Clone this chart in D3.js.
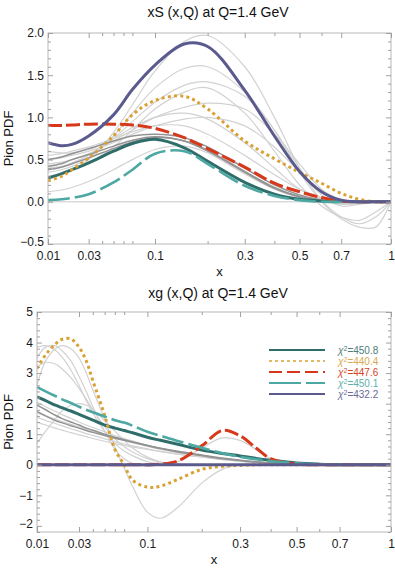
<!DOCTYPE html>
<html>
<head>
<meta charset="utf-8">
<script src="https://cdn.jsdelivr.net/npm/d3@7"></script>
<style>
body { margin: 0; background: #fff; }
svg { display: block; font-family: "Liberation Sans", Arial, sans-serif; }
</style>
</head>
<body>
<svg id="chart" width="395" height="568"></svg>
<script>
// x grids (sea and gluon)
var xsSea = [0.01,0.015,0.02,0.03,0.05,0.07,0.1,0.15,0.2,0.3,0.4,0.5,0.6,0.7,0.8,0.9,1];
var xsGlu = [0.01,0.013,0.017,0.02,0.025,0.03,0.035,0.04,0.05,0.06,0.07,0.08,0.1,0.12,0.15,0.2,0.25,0.3,0.35,0.4,0.5,0.6,0.7,0.8,1];

var chi2 = [450.8, 440.4, 447.6, 450.1, 432.2];

// xS, highlighted fits
var seaA = [0.28,0.33,0.38,0.46,0.60,0.69,0.74,0.64,0.48,0.23,0.09,0.03,0.01,0,0,0,0];
var seaB = [0.25,0.30,0.38,0.52,0.78,1.03,1.20,1.25,1.10,0.72,0.51,0.35,0.22,0.10,0.03,0,0];
var seaC = [0.905,0.905,0.91,0.92,0.92,0.91,0.87,0.76,0.63,0.41,0.22,0.12,0.05,0.01,0,0,0];
var seaD = [0.02,0.03,0.045,0.09,0.23,0.38,0.57,0.60,0.45,0.19,0.07,0.02,0,0,0,0,0];
var seaE = [0.70,0.665,0.68,0.78,1.03,1.33,1.62,1.87,1.84,1.32,0.78,0.36,0.12,0.02,0,0,0];

// xS, other replicas
var seaReplicas = [
  [0.30,0.33,0.38,0.50,0.82,1.15,1.55,1.90,1.97,1.60,1.00,0.40,0.02,-0.18,-0.26,-0.18,0],
  [0.35,0.38,0.42,0.52,0.78,1.05,1.35,1.58,1.60,1.30,0.85,0.35,0.0,-0.20,-0.30,-0.30,0],
  [0.40,0.42,0.46,0.55,0.75,0.95,1.18,1.38,1.42,1.25,0.85,0.40,0.08,-0.05,-0.03,0,0],
  [0.45,0.47,0.50,0.57,0.72,0.85,1.00,1.12,1.17,1.10,0.80,0.45,0.15,0.02,0,0,0],
  [0.50,0.52,0.55,0.60,0.70,0.80,0.90,0.98,1.00,0.90,0.65,0.35,0.12,0.02,0,0,0],
  [0.55,0.57,0.60,0.65,0.75,0.83,0.90,0.90,0.80,0.55,0.32,0.15,0.05,0,0,0,0],
  [0.60,0.58,0.58,0.62,0.75,0.88,1.00,1.05,0.98,0.70,0.40,0.15,0.02,-0.03,-0.02,0,0],
  [0.30,0.33,0.37,0.45,0.65,0.85,1.10,1.30,1.35,1.05,0.60,0.20,-0.05,-0.18,-0.22,-0.12,0],
  [0.12,0.14,0.17,0.24,0.38,0.50,0.62,0.66,0.58,0.33,0.15,0.05,0.01,0,0,0,0],
  [0.50,0.53,0.57,0.63,0.72,0.78,0.80,0.76,0.65,0.40,0.20,0.08,0.02,0,0,0,0],
  [0.42,0.45,0.50,0.56,0.66,0.73,0.77,0.72,0.60,0.35,0.16,0.06,0.01,0,0,0,0],
  [0.38,0.41,0.45,0.52,0.63,0.71,0.76,0.72,0.61,0.36,0.17,0.06,0.01,0,0,0,0]
];

// xg, highlighted fits
var gluA = [2.22,2.1,1.95,1.87,1.76,1.65,1.55,1.46,1.3,1.2,1.12,1.05,0.9,0.8,0.67,0.48,0.37,0.29,0.21,0.15,0.06,0.02,0,0,0];
var gluB = [3.15,3.6,3.95,4.1,4.12,3.85,3.4,2.75,1.62,0.5,0.0,-0.5,-0.73,-0.70,-0.48,-0.15,-0.05,-0.02,0,0,0,0,0,0,0];
var gluC = [0,0,0,0,0,0,0,0,0,0,0,0,0,0.02,0.12,0.62,1.12,0.95,0.55,0.2,0.02,0,0,0,0];
var gluD = [2.54,2.4,2.25,2.15,2.02,1.9,1.8,1.72,1.58,1.46,1.38,1.28,1.08,0.95,0.78,0.56,0.38,0.26,0.18,0.12,0.05,0.01,0,0,0];
var gluE = [0,0,0,0,0,0,0,0,0,0,0,0,0,0,0,0,0,0,0,0,0,0,0,0,0];

// xg, other replicas
var gluReplicas = [
  [2.6,3.4,3.8,3.9,3.8,3.5,3.0,2.45,1.5,0.6,-0.1,-0.7,-1.55,-1.75,-1.4,-0.6,-0.15,0,0,0,0,0,0,0,0],
  [3.85,3.9,3.75,3.55,3.1,2.6,2.1,1.7,1.1,0.7,0.45,0.3,0.1,0.03,0,0,0,0,0,0,0,0,0,0,0],
  [3.5,3.85,3.9,3.75,3.4,2.9,2.4,1.9,1.1,0.5,0.2,0.05,-0.05,0,0,0,0,0,0,0,0,0,0,0,0],
  [3.2,3.35,3.3,3.15,2.85,2.5,2.15,1.8,1.25,0.85,0.6,0.42,0.2,0.08,0.02,0,0,0,0,0,0,0,0,0,0],
  [0.7,1.1,1.5,1.75,1.95,2.0,1.95,1.8,1.45,1.1,0.8,0.55,0.25,0.1,0.02,0,0,0,0,0,0,0,0,0,0],
  [2.05,1.9,1.75,1.65,1.52,1.4,1.3,1.22,1.08,0.96,0.86,0.78,0.64,0.54,0.42,0.28,0.18,0.12,0.08,0.05,0.02,0,0,0,0],
  [1.7,1.6,1.5,1.42,1.32,1.24,1.16,1.1,0.98,0.88,0.8,0.72,0.6,0.5,0.4,0.27,0.18,0.12,0.08,0.05,0.02,0,0,0,0],
  [1.55,1.45,1.35,1.28,1.18,1.1,1.02,0.96,0.85,0.76,0.68,0.62,0.52,0.44,0.35,0.25,0.17,0.11,0.07,0.04,0.01,0,0,0,0],
  [1.4,1.3,1.2,1.14,1.05,0.98,0.92,0.86,0.77,0.7,0.63,0.58,0.5,0.43,0.35,0.26,0.18,0.12,0.08,0.05,0.02,0,0,0,0],
  [0,0,0,0,0,0,0,0,0,0,0,0,0,0.02,0.1,0.55,0.88,0.8,0.5,0.2,0.02,0,0,0,0],
  [1.75,1.6,1.45,1.38,1.28,1.2,1.12,1.06,0.96,0.87,0.8,0.74,0.63,0.54,0.44,0.32,0.22,0.15,0.1,0.06,0.02,0,0,0,0],
  [1.95,1.8,1.62,1.52,1.4,1.3,1.2,1.13,1.0,0.9,0.82,0.75,0.63,0.53,0.42,0.3,0.2,0.14,0.09,0.06,0.02,0,0,0,0]
];

var xLabelTicks = [0.01,0.03,0.1,0.3,0.5,0.7,1];
var xMinorTicks = [0.04,0.05,0.06,0.07,0.2,0.4,0.6];

// line styles for the five fits
var colors = ["#2f6d6a", "#d9a132", "#d7381a", "#4da7a2", "#5b5a8e"];
var dashes = [null, "3,3.2", "14,4", "22,5", null];
var widths = [3, 3, 3, 2.6, 3];
var legendDash = [null, "3,3", "13,5", "32,5", null];
var textColors = ["#4b7d79", "#d9a850", "#d4451f", "#5cb0ab", "#6a6a96"];

var svg = d3.select("#chart");
svg.append("rect").attr("width", 395).attr("height", 568).attr("fill", "#fff");

function drawPanel(p) {
  var x = d3.scalePow().exponent(0.3436).domain([0.01, 1]).range([p.left, p.right]);
  var y = d3.scaleLinear().domain(p.yDomain).range([p.bottom, p.top]);
  var g = svg.append("g");

  var clipId = "clip" + p.id;
  g.append("clipPath").attr("id", clipId).append("rect")
    .attr("x", p.left).attr("y", p.top).attr("width", p.right - p.left).attr("height", p.bottom - p.top);

  g.append("line").attr("x1", p.left).attr("x2", p.right)
    .attr("y1", y(0)).attr("y2", y(0)).attr("stroke", "#c8c8c8").attr("stroke-width", 1);

  var line = d3.line()
    .x(function(d, i) { return x(p.xs[i]); })
    .y(function(d) { return y(d); })
    .curve(d3.curveCatmullRom.alpha(0.5));

  var plot = g.append("g").attr("clip-path", "url(#" + clipId + ")");

  p.replicas.forEach(function(r, i) {
    var dark = p.darkIdx.indexOf(i) >= 0;
    plot.append("path").attr("d", line(r)).attr("fill", "none")
      .attr("stroke", dark ? "#939393" : "#d2d2d2")
      .attr("stroke-width", dark ? 1.5 : 1.2);
  });

  p.fits.forEach(function(f, i) {
    plot.append("path").attr("d", line(f)).attr("fill", "none")
      .attr("stroke", colors[i]).attr("stroke-width", widths[i])
      .attr("stroke-dasharray", dashes[i]);
  });

  // frame
  g.append("rect").attr("x", p.left).attr("y", p.top)
    .attr("width", p.right - p.left).attr("height", p.bottom - p.top)
    .attr("fill", "none").attr("stroke", "#b8b8b8").attr("stroke-width", 1);

  function style(a) {
    a.select(".domain").remove();
    a.selectAll(".tick line").attr("stroke", "#a0a0a0");
    a.selectAll("text").attr("fill", "#1a1a1a").style("font-size", "12px")
      .style("font-family", "'Liberation Sans', Arial, sans-serif");
  }

  g.append("g").attr("transform", "translate(0," + p.bottom + ")")
    .call(d3.axisBottom(x).tickValues(xLabelTicks).tickSize(-5).tickPadding(7)
      .tickFormat(function(d) { return d === 1 ? "1" : String(d); }))
    .call(style);
  g.append("g").attr("transform", "translate(0," + p.bottom + ")")
    .call(d3.axisBottom(x).tickValues(xMinorTicks).tickSize(-3).tickFormat(""))
    .call(style);
  g.append("g").attr("transform", "translate(0," + p.top + ")")
    .call(d3.axisTop(x).tickValues(xLabelTicks).tickSize(-5).tickFormat(""))
    .call(style);
  g.append("g").attr("transform", "translate(0," + p.top + ")")
    .call(d3.axisTop(x).tickValues(xMinorTicks).tickSize(-3).tickFormat(""))
    .call(style);

  var yAx = g.append("g").attr("transform", "translate(" + p.left + ",0)")
    .call(d3.axisLeft(y).tickValues(p.yMajor).tickSize(-5).tickPadding(4).tickFormat(p.yFmt))
    .call(style);
  // keep the lowest y label clear of the first x label
  yAx.selectAll(".tick text").filter(function(d) { return d === p.yDomain[0] || d === p.yMajor[0]; })
    .attr("dy", "0.1em");
  g.append("g").attr("transform", "translate(" + p.left + ",0)")
    .call(d3.axisLeft(y).tickValues(p.yMinor).tickSize(-3).tickFormat(""))
    .call(style);
  g.append("g").attr("transform", "translate(" + p.right + ",0)")
    .call(d3.axisRight(y).tickValues(p.yMajor).tickSize(-5).tickFormat(""))
    .call(style);
  g.append("g").attr("transform", "translate(" + p.right + ",0)")
    .call(d3.axisRight(y).tickValues(p.yMinor).tickSize(-3).tickFormat(""))
    .call(style);

  g.append("text").attr("x", 218).attr("y", p.titleY).attr("text-anchor", "middle")
    .style("font-size", "14px").attr("fill", "#111").text(p.title);
  g.append("text").attr("x", (p.left + p.right) / 2).attr("y", p.xLabelY).attr("text-anchor", "middle")
    .style("font-size", "13px").attr("fill", "#111").text("x");
  g.append("text").attr("transform", "translate(13," + ((p.top + p.bottom) / 2) + ") rotate(-90)")
    .attr("text-anchor", "middle").style("font-size", "13px").attr("fill", "#111").text("Pion PDF");

  return { x: x, y: y };
}

function minorRange(a, b, step, skip) {
  var out = [];
  for (var i = 0; a + i * step <= b + 1e-9; i++) {
    var v = +(a + i * step).toFixed(3);
    if (Math.abs(v / skip - Math.round(v / skip)) > 1e-6) out.push(v);
  }
  return out;
}

drawPanel({
  id: "S", left: 48, right: 391, top: 33, bottom: 244,
  yDomain: [-0.5, 2.0], yMajor: [-0.5, 0, 0.5, 1, 1.5, 2],
  yMinor: minorRange(-0.5, 2.0, 0.1, 0.5),
  yFmt: d3.format(".1f"),
  xs: xsSea, replicas: seaReplicas, darkIdx: [9, 10, 11],
  fits: [seaA, seaB, seaC, seaD, seaE],
  title: "xS (x,Q) at Q=1.4 GeV", titleY: 17, xLabelY: 276
});

drawPanel({
  id: "G", left: 37, right: 391, top: 312, bottom: 532,
  yDomain: [-2.2, 5], yMajor: [-2, -1, 0, 1, 2, 3, 4, 5],
  yMinor: minorRange(-2.2, 5, 0.2, 1),
  yFmt: d3.format("d"),
  xs: xsGlu, replicas: gluReplicas, darkIdx: [10, 11],
  fits: [gluA, gluB, gluC, gluD, gluE],
  title: "xg (x,Q) at Q=1.4 GeV", titleY: 298, xLabelY: 564
});

// legend
var legend = svg.append("g");
chi2.forEach(function(c, i) {
  var yy = 350 + i * 11;
  legend.append("line").attr("x1", 269).attr("x2", 325).attr("y1", yy).attr("y2", yy)
    .attr("stroke", colors[i]).attr("stroke-width", i === 1 ? 1.6 : 2)
    .attr("stroke-dasharray", legendDash[i]);
  var t = legend.append("text").attr("x", 338).attr("y", yy + 3.5)
    .style("font-size", "10px").attr("fill", textColors[i]);
  t.append("tspan").style("font-style", "italic").text("\u03c7");
  t.append("tspan").attr("dy", -3).style("font-size", "7px").text("2");
  t.append("tspan").attr("dy", 3).text("=" + c.toFixed(1));
});
</script>
</body>
</html>
